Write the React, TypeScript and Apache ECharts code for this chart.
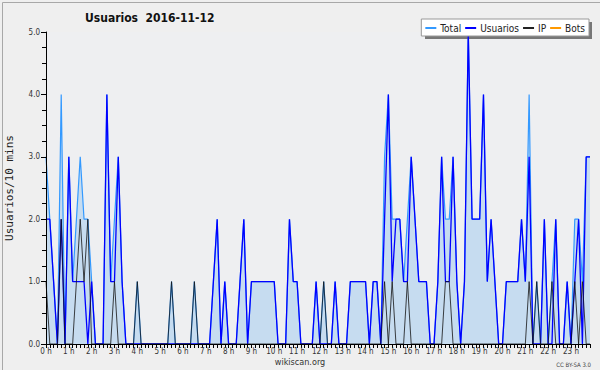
import React, { useEffect, useRef } from "react";
import * as echarts from "echarts";

// 10-minute slots over the day (144 points)
const TIMES: string[] = Array.from({ length: 144 }, (_, i) => {
  const h = Math.floor(i / 6);
  const m = (i % 6) * 10;
  return `${h}:${m === 0 ? "00" : m}`;
});

const HOUR_LABELS: string[] = Array.from({ length: 24 }, (_, h) => `${h} h`);

const USUARIOS: number[] = [
  2, 2, 1, 0, 2, 0, 3, 1, 1, 1, 1, 0,
  1, 0, 0, 0, 4, 1, 1, 3, 1, 0, 0, 0,
  0, 0, 0, 0, 0, 0, 0, 0, 0, 0, 0, 0,
  0, 0, 0, 0, 0, 0, 0, 0, 1, 2, 0, 1,
  0, 0, 0, 1, 2, 0, 1, 1, 1, 1, 1, 1,
  1, 0, 0, 0, 2, 1, 1, 0, 0, 0, 0, 1,
  0, 0, 0, 0, 1, 0, 0, 0, 1, 1, 1, 1,
  1, 0, 1, 1, 0, 2, 4, 1, 2, 2, 1, 1,
  3, 2, 1, 1, 1, 0, 0, 1, 3, 1, 1, 3,
  1, 0, 1, 5, 2, 2, 2, 4, 1, 2, 1, 0,
  0, 1, 1, 1, 1, 2, 1, 3, 0, 0, 0, 2,
  0, 0, 2, 0, 0, 1, 0, 1, 2, 0, 3, 3,
];

const IP: number[] = [
  1, 0, 0, 0, 2, 0, 0, 0, 1, 2, 1, 2,
  0, 0, 0, 0, 0, 0, 1, 0, 0, 0, 0, 0,
  1, 0, 0, 0, 0, 0, 0, 0, 0, 1, 0, 0,
  0, 0, 0, 1, 0, 0, 0, 0, 0, 0, 0, 0,
  0, 0, 0, 0, 0, 0, 0, 0, 0, 0, 0, 0,
  0, 0, 0, 0, 0, 0, 0, 0, 0, 0, 0, 0,
  0, 1, 0, 0, 0, 0, 0, 0, 0, 0, 0, 0,
  0, 0, 0, 0, 0, 1, 0, 1, 0, 0, 0, 1,
  0, 0, 0, 0, 0, 0, 0, 0, 0, 1, 1, 0,
  0, 0, 0, 0, 0, 0, 0, 0, 0, 0, 0, 0,
  0, 0, 0, 0, 0, 0, 0, 1, 0, 1, 0, 0,
  0, 1, 0, 0, 0, 0, 0, 1, 0, 1, 0, 0,
];

const BOTS: number[] = new Array(144).fill(0);

const TOTAL: number[] = USUARIOS.map((u, i) => u + IP[i] + BOTS[i]);

const Y_TICKS = ["0.0", "1.0", "2.0", "3.0", "4.0", "5.0"];

const FONT = "'DejaVu Sans Condensed', 'DejaVu Sans', sans-serif";

export default function App() {
  const ref = useRef<HTMLDivElement>(null);

  useEffect(() => {
    if (!ref.current) return;
    const chart = echarts.init(ref.current, null, { renderer: "svg" });
    chart.setOption({
      animation: false,
      backgroundColor: "#efefef",
      textStyle: { fontFamily: FONT },
      title: {
        text: "Usuarios  2016-11-12",
        left: 85,
        top: 12,
        padding: 0,
        textStyle: { fontSize: 12, fontWeight: "bold", color: "#111", fontFamily: FONT },
      },
      legend: {
        right: 11,
        top: 19,
        padding: [4, 4, 3, 4],
        itemGap: 4,
        itemWidth: 11,
        itemHeight: 2,
        icon: "rect",
        backgroundColor: "#ffffff",
        borderColor: "#999",
        borderWidth: 1,
        textStyle: { fontSize: 10, color: "#222", fontFamily: FONT, padding: [0, 0, 0, -1] },
        data: ["Total", "Usuarios", "IP", "Bots"],
      },
      grid: {
        left: 46,
        right: 10,
        top: 32,
        bottom: 26,
        containLabel: false,
        outerBoundsMode: "none",
        show: true,
        backgroundColor: "#eeeff1",
        borderWidth: 0,
      },
      xAxis: {
        type: "category",
        data: TIMES,
        boundaryGap: false,
        z: 5,
        axisLine: { lineStyle: { color: "#000", width: 1 } },
        axisTick: { show: true, interval: 0, length: 4, lineStyle: { color: "#000" } },
        axisLabel: {
          interval: 5,
          margin: 3,
          fontSize: 8,
          color: "#333",
          fontFamily: FONT,
          formatter: (_v: string, idx: number) => HOUR_LABELS[Math.floor(idx / 6)],
        },
        splitLine: { show: false },
      },
      yAxis: {
        type: "value",
        min: 0,
        max: 5,
        interval: 1,
        z: 5,
        name: "Usuarios/10 mins",
        nameLocation: "middle",
        nameGap: 31,
        nameTextStyle: { fontFamily: "'DejaVu Sans Mono', monospace", fontSize: 11, color: "#222" },
        axisLine: { show: true, lineStyle: { color: "#000", width: 1 } },
        axisTick: { show: true, length: 5, lineStyle: { color: "#000" } },
        minorTick: { show: true, splitNumber: 4, length: 4, lineStyle: { color: "#000" } },
        axisLabel: {
          margin: 6,
          fontSize: 8,
          color: "#333",
          fontFamily: FONT,
          formatter: (v: number) => Y_TICKS[Math.round(v)],
        },
        splitLine: { show: false },
      },
      series: [
        {
          name: "Total",
          type: "line",
          data: TOTAL,
          symbol: "none",
          color: "#3399ff",
          lineStyle: { width: 1.2, color: "#3399ff" },
          areaStyle: { color: "#c6dcf0", opacity: 1 },
          z: 2,
        },
        {
          name: "Usuarios",
          type: "line",
          data: USUARIOS,
          symbol: "none",
          color: "#0000ff",
          lineStyle: { width: 1.3, color: "#0000ff" },
          z: 3,
        },
        {
          name: "IP",
          type: "line",
          data: IP,
          symbol: "none",
          color: "#222222",
          lineStyle: { width: 1, color: "rgba(20,20,20,0.8)" },
          z: 4,
        },
        {
          name: "Bots",
          type: "line",
          data: BOTS,
          symbol: "none",
          color: "#ff9900",
          lineStyle: { width: 1, color: "#ff9900" },
          z: 1,
        },
      ],
      graphic: [
        {
          type: "rect",
          left: 0,
          top: 0,
          shape: { x: 0.5, y: 0.5, width: 599, height: 369 },
          style: { fill: "none", stroke: "#a8a8a8", lineWidth: 1 },
          silent: true,
        },
        {
          type: "rect",
          z: 3,
          shape: { x: 425, y: 22, width: 167, height: 17 },
          style: { fill: "#777", stroke: "none" },
          silent: true,
        },
        {
          type: "text",
          x: 300,
          y: 362,
          style: { text: "wikiscan.org", fontSize: 9, fill: "#333", fontFamily: FONT, align: "center", verticalAlign: "middle" },
        },
        {
          type: "text",
          x: 591,
          y: 364,
          style: { text: "CC BY-SA 3.0", fontSize: 6, fill: "#444", fontFamily: FONT, align: "right", verticalAlign: "middle" },
        },
      ],
    });
    return () => chart.dispose();
  }, []);

  return (
    <div
      ref={ref}
      style={{ position: "fixed", left: 0, top: 0, width: 600, height: 370 }}
    />
  );
}
